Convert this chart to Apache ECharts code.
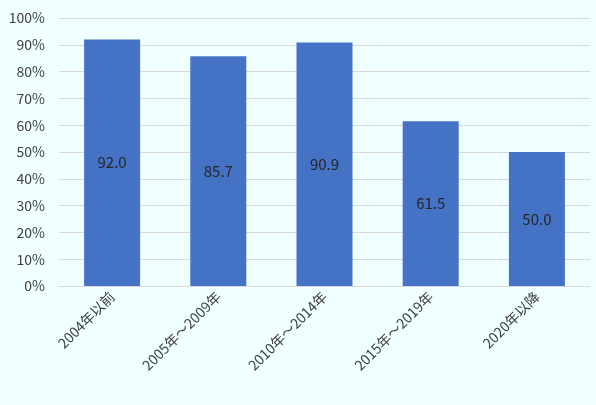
<!DOCTYPE html>
<html><head><meta charset="utf-8">
<script src="https://cdn.jsdelivr.net/npm/echarts@6/dist/echarts.min.js"></script>
<style>html,body{margin:0;padding:0;background:#f0ffff}#c{width:596px;height:405px}</style>
</head><body><div id="c"></div>
<script>
const categories = ["2004年以前", "2005年～2009年", "2010年～2014年", "2015年～2019年", "2020年以降"];
const values = [92.0, 85.7, 90.9, 61.5, 50.0];

const chart = echarts.init(document.getElementById("c"));
chart.setOption({
    backgroundColor: "#f0ffff",
    animation: false,
    grid: { left: 59, right: 6, top: 18, bottom: 119 },
    xAxis: {
        type: "category",
        data: categories,
        axisTick: { show: false },
        axisLine: { lineStyle: { color: "#d9d9d9" } },
        axisLabel: { rotate: 45, color: "#404040", fontSize: 14, fontFamily: "Noto Sans CJK JP", margin: 8 },
    },
    yAxis: {
        type: "value",
        min: 0,
        max: 100,
        interval: 10,
        axisLabel: { formatter: "{value}%", color: "#404040", fontSize: 14, fontFamily: "Noto Sans CJK JP", margin: 14 },
        splitLine: { lineStyle: { color: "#d9d9d9" } },
    },
    series: [{
        type: "bar",
        data: values,
        barWidth: 56,
        itemStyle: { color: "#4472c4" },
        label: {
            show: true,
            position: "inside",
            formatter: (p) => p.value.toFixed(1),
            color: "#262626",
            fontSize: 15,
            fontFamily: "Noto Sans CJK JP",
        },
    }],
});
</script></body></html>
